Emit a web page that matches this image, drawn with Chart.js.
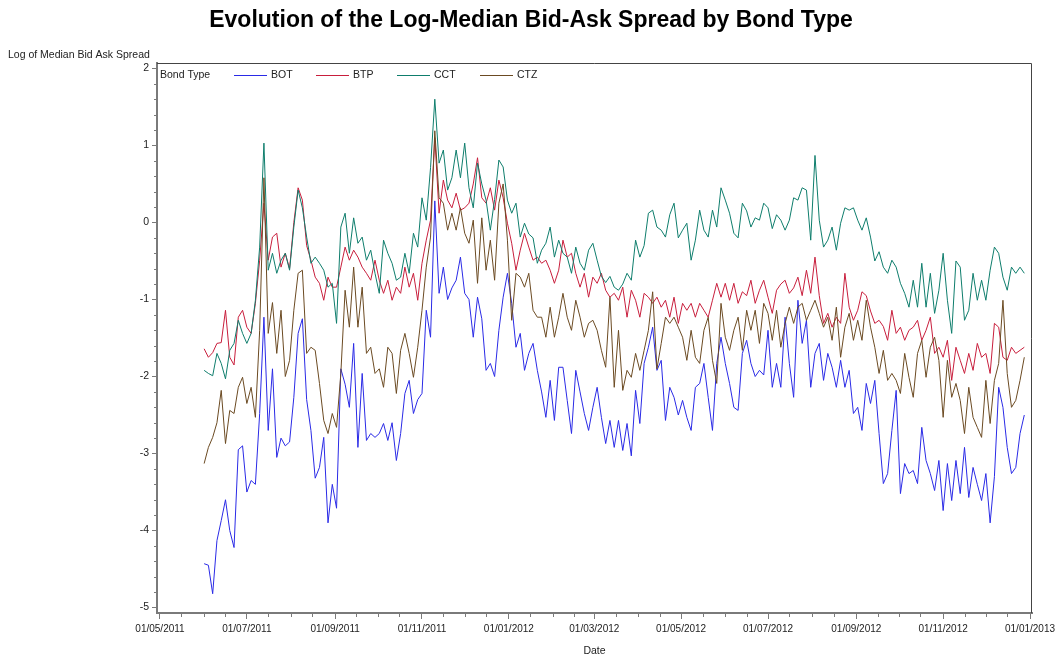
<!DOCTYPE html>
<html><head><meta charset="utf-8">
<script src="https://cdn.jsdelivr.net/npm/chart.js@4.4.0/dist/chart.umd.min.js"></script>
<style>html,body{margin:0;padding:0;background:#fff}#wrap{width:1057px;height:661px;position:relative}</style>
</head><body><div id="wrap"><canvas id="c" width="1057" height="661"></canvas></div>
<script>
// ---- data ----
const startDate = '2011-06-01';   // first observation
const stepDays = 3;               // spacing between observations
const bondTypes = ['BOT', 'BTP', 'CCT', 'CTZ'];
const BOT = [-4.43,-4.45,-4.82,-4.13,-3.87,-3.6,-4.0,-4.22,-2.95,-2.9,
 -3.5,-3.35,-3.4,-2.48,-1.23,-2.7,-1.9,-3.05,-2.8,-2.9,
 -2.85,-2.27,-1.44,-1.25,-2.3,-2.7,-3.32,-3.18,-2.79,-3.9,
 -3.4,-3.71,-1.9,-2.1,-2.4,-1.57,-2.92,-1.96,-2.83,-2.74,
 -2.79,-2.74,-2.61,-2.83,-2.6,-3.09,-2.74,-2.22,-2.05,-2.48,
 -2.3,-2.22,-1.14,-1.49,0.28,-0.92,-0.58,-1.0,-0.85,-0.75,
 -0.45,-0.92,-1.0,-1.49,-0.97,-1.25,-1.92,-1.83,-2.0,-1.4,
 -0.97,-0.66,-1.05,-1.62,-1.44,-1.92,-1.7,-1.57,-1.92,-2.2,
 -2.53,-2.05,-2.57,-1.88,-1.88,-2.31,-2.74,-1.92,-2.2,-2.48,
 -2.7,-2.4,-2.14,-2.53,-2.87,-2.57,-2.92,-2.57,-2.96,-2.61,
 -3.03,-2.18,-2.61,-1.83,-1.62,-1.36,-1.92,-1.79,-2.57,-2.14,
 -2.27,-2.5,-2.31,-2.53,-2.7,-2.14,-2.09,-1.83,-2.27,-2.7,
 -1.83,-1.49,-1.83,-2.09,-2.4,-2.44,-1.7,-1.53,-1.83,-2.0,
 -1.92,-1.98,-1.4,-2.14,-1.83,-2.14,-1.23,-1.83,-2.27,-1.01,
 -1.57,-1.27,-2.14,-1.7,-1.57,-2.05,-1.7,-1.88,-2.14,-1.79,
 -2.14,-1.92,-2.48,-2.4,-2.7,-2.09,-2.35,-2.05,-2.74,-3.39,
 -3.26,-2.7,-2.18,-3.52,-3.13,-3.26,-3.22,-3.39,-2.66,-3.09,
 -3.26,-3.48,-3.09,-3.74,-3.13,-3.61,-3.09,-3.52,-2.92,-3.57,
 -3.18,-3.4,-3.61,-3.26,-3.9,-3.3,-2.14,-2.4,-2.92,-3.26,
 -3.18,-2.74,-2.5];
const BTP = [-1.64,-1.75,-1.69,-1.57,-1.56,-1.14,-1.75,-1.85,-1.23,-1.14,
 -1.36,-1.44,-1.05,-0.49,0.25,-0.49,-0.19,-0.14,-0.58,-0.4,
 -0.6,0.0,0.45,0.29,-0.3,-0.49,-0.71,-0.79,-1.01,-0.71,
 -0.84,-0.84,-0.58,-0.32,-0.49,-0.36,-0.45,-0.58,-0.66,-0.75,
 -0.49,-0.75,-0.92,-0.75,-1.01,-0.84,-0.92,-0.58,-0.84,-0.66,
 -1.01,-0.53,-0.23,0.03,1.1,0.12,0.55,0.29,0.19,0.38,
 0.16,0.19,0.25,0.5,0.84,0.32,0.25,0.45,0.16,0.55,
 0.32,-0.01,-0.27,-0.62,-0.36,-0.14,-0.32,-0.49,-0.45,-0.53,
 -0.49,-0.62,-0.79,-0.62,-0.23,-0.45,-0.4,-0.66,-0.84,-0.66,
 -0.97,-0.71,-0.79,-0.66,-0.88,-0.97,-0.92,-1.01,-0.84,-1.23,
 -0.88,-1.01,-1.23,-0.92,-0.97,-1.05,-0.97,-1.1,-1.01,-1.23,
 -0.97,-1.31,-1.05,-1.14,-1.05,-1.23,-1.05,-1.14,-1.23,-1.01,
 -0.79,-0.97,-0.79,-1.01,-0.79,-1.05,-0.9,-0.95,-0.75,-1.05,
 -0.88,-0.75,-0.97,-1.18,-0.88,-0.8,-0.75,-0.92,-0.85,-0.71,
 -0.95,-0.62,-0.92,-0.45,-0.95,-1.31,-1.18,-1.36,-1.23,-1.31,
 -0.66,-1.1,-1.27,-1.14,-0.9,-0.95,-1.15,-1.31,-1.27,-1.35,
 -1.53,-1.14,-1.44,-1.36,-1.53,-1.4,-1.36,-1.27,-1.53,-1.4,
 -1.23,-1.7,-1.62,-1.75,-1.53,-2.05,-1.62,-1.79,-1.96,-1.7,
 -1.92,-1.57,-1.75,-1.7,-1.96,-1.31,-1.36,-1.75,-1.79,-1.62,
 -1.7,-1.66,-1.62];
const CCT = [-1.92,-1.96,-1.99,-1.7,-1.83,-2.03,-1.66,-1.57,-1.27,-1.44,
 -1.57,-1.44,-1.01,-0.32,1.03,-0.62,-0.4,-0.66,-0.49,-0.4,
 -0.62,-0.06,0.42,0.19,-0.19,-0.53,-0.45,-0.53,-0.62,-0.84,
 -0.79,-1.31,-0.06,0.12,-0.4,0.06,-0.27,-0.19,-0.49,-0.36,
 -0.66,-0.92,-0.23,-0.4,-0.53,-0.75,-0.71,-0.4,-0.66,-0.14,
 -0.32,0.32,0.03,0.71,1.6,0.77,0.94,0.42,0.58,0.94,
 0.58,1.03,0.45,0.19,0.77,0.5,0.29,-0.1,0.3,0.81,
 0.72,0.29,0.12,0.25,-0.19,-0.01,-0.15,-0.2,-0.53,-0.36,
 -0.27,-0.06,-0.45,-0.23,-0.4,-0.45,-0.66,-0.32,-0.53,-0.62,
 -0.36,-0.27,-0.49,-0.7,-0.78,-0.7,-0.84,-0.88,-0.8,-0.66,
 -0.75,-0.23,-0.45,-0.3,0.12,0.16,-0.06,-0.1,-0.19,0.1,
 0.25,-0.2,-0.1,-0.01,-0.49,-0.23,0.16,-0.1,-0.19,0.16,
 -0.06,0.45,0.29,0.12,-0.14,-0.2,0.25,0.15,-0.06,0.06,
 0.03,0.25,0.19,-0.08,0.1,0.03,-0.1,0.03,0.32,0.29,
 0.45,0.42,-0.23,0.87,0.03,-0.32,-0.23,-0.06,-0.36,-0.01,
 0.19,0.16,0.19,0.03,-0.1,0.06,-0.19,-0.5,-0.38,-0.58,
 -0.66,-0.49,-0.58,-0.79,-0.92,-1.1,-0.75,-1.1,-0.53,-1.1,
 -0.66,-1.18,-0.88,-0.4,-1.01,-1.44,-0.5,-0.58,-1.27,-1.14,
 -0.66,-1.01,-0.75,-1.01,-0.62,-0.32,-0.4,-0.71,-0.88,-0.58,
 -0.66,-0.58,-0.66];
const CTZ = [-3.13,-2.92,-2.79,-2.6,-2.18,-2.87,-2.44,-2.48,-2.14,-2.01,
 -2.35,-2.14,-2.53,-1.4,0.58,-1.44,-1.04,-1.7,-1.14,-2.0,
 -1.79,-1.14,-0.66,-0.62,-1.7,-1.62,-1.66,-2.09,-2.57,-2.74,
 -2.48,-2.66,-1.96,-0.88,-1.36,-0.58,-1.36,-0.84,-1.7,-1.62,
 -1.96,-1.9,-2.14,-1.62,-1.7,-2.22,-1.66,-1.44,-1.7,-2.01,
 -1.62,-1.14,-0.58,-0.19,1.19,0.32,0.25,-0.1,0.12,-0.1,
 0.19,-0.14,-0.27,0.03,-0.79,0.06,-0.62,-0.23,-0.75,0.25,
 0.5,-0.23,-1.27,-0.66,-0.71,-0.84,-0.66,-1.14,-1.23,-1.23,
 -1.49,-1.1,-1.49,-1.23,-0.92,-1.23,-1.4,-1.01,-1.23,-1.49,
 -1.31,-1.27,-1.4,-1.66,-1.88,-0.97,-2.14,-1.4,-2.18,-1.92,
 -2.01,-1.7,-1.92,-1.66,-1.4,-0.9,-1.9,-1.57,-1.23,-1.31,
 -1.23,-1.36,-1.49,-1.79,-1.4,-1.75,-1.83,-1.4,-1.23,-1.79,
 -2.09,-1.05,-1.49,-1.66,-1.4,-1.23,-1.66,-1.14,-1.4,-1.14,
 -1.57,-1.05,-1.18,-1.53,-1.14,-1.62,-1.31,-1.1,-1.31,-1.1,
 -1.05,-1.27,-1.14,-1.01,-1.18,-1.36,-1.23,-1.53,-1.1,-1.75,
 -1.36,-1.18,-1.53,-1.27,-1.53,-1.01,-1.36,-1.62,-1.96,-1.66,
 -2.05,-1.96,-2.05,-2.22,-1.7,-2.01,-2.27,-1.7,-1.53,-2.01,
 -1.62,-1.49,-1.79,-2.53,-1.79,-2.27,-2.09,-2.31,-2.74,-2.14,
 -2.53,-2.66,-2.79,-2.05,-2.61,-2.05,-1.83,-1.01,-1.96,-2.4,
 -2.31,-2.05,-1.75];
const seriesValues = [BOT, BTP, CCT, CTZ];
const seriesColors = ['#2a2ae6', '#c81e3c', '#0e7d6c', '#6b4a22'];
const yTickValues = [-5, -4, -3, -2, -1, 0, 1, 2];
const xTickDates = ['2011-05-01','2011-07-01','2011-09-01','2011-11-01','2012-01-01','2012-03-01',
                    '2012-05-01','2012-07-01','2012-09-01','2012-11-01','2013-01-01'];
const titleText = 'Evolution of the Log-Median Bid-Ask Spread by Bond Type';
const yTitle = 'Log of Median Bid Ask Spread';
const xTitle = 'Date';
const legendTitle = 'Bond Type';

// ---- helpers ----
const DAY = 86400000;
function ts(s){ const p = s.split('-').map(Number); return Date.UTC(p[0], p[1]-1, p[2]); }
function fmt(v){ const d = new Date(v); const dd = String(d.getUTCDate()).padStart(2,'0');
  const mm = String(d.getUTCMonth()+1).padStart(2,'0'); return dd + '/' + mm + '/' + d.getUTCFullYear(); }
const t0 = ts(startDate);
const datesTs = BOT.map((_, i) => t0 + i*stepDays*DAY);

const FONT = '"Liberation Sans", Arial, sans-serif';
const AXIS = '#7a7a7a';

const datasets = bondTypes.map((name, k) => ({
  label: name,
  data: seriesValues[k].map((v, i) => ({x: datesTs[i], y: v})),
  borderColor: seriesColors[k],
  backgroundColor: seriesColors[k],
  borderWidth: 1,
  pointRadius: 0,
  tension: 0,
  fill: false,
  order: bondTypes.length - 1 - k
}));

const deco = {
  id: 'deco',
  afterDraw(chart){
    const ctx = chart.ctx, a = chart.chartArea;
    const xs = chart.scales.x, ys = chart.scales.y;
    ctx.save();
    // frame top/right
    ctx.strokeStyle = '#444'; ctx.lineWidth = 1;
    ctx.beginPath();
    ctx.moveTo(a.left, a.top + 0.5); ctx.lineTo(a.right - 0.5, a.top + 0.5); ctx.lineTo(a.right - 0.5, a.bottom);
    ctx.stroke();
    // minor ticks
    ctx.strokeStyle = AXIS; ctx.lineWidth = 1;
    ctx.beginPath();
    for (let v = -5; v <= 2.001; v += 0.2) {
      const r = Math.round(v*10)/10;
      if (Math.abs(r - Math.round(r)) < 1e-6) continue;
      const y = Math.round(ys.getPixelForValue(r)) + 0.5;
      ctx.moveTo(a.left - 3, y); ctx.lineTo(a.left, y);
    }
    const majors = new Set(xTickDates.map(ts));
    for (let yr = 2011; yr <= 2012; yr++) for (let m = 0; m < 12; m++) {
      [1, 16].forEach(dd => {
        const t = Date.UTC(yr, m, dd);
        if (majors.has(t) || t < xs.min || t > xs.max) return;
        const x = Math.round(xs.getPixelForValue(t)) + 0.5;
        ctx.moveTo(x, a.bottom); ctx.lineTo(x, a.bottom + 4);
      });
    }
    ctx.stroke();
    // texts
    ctx.fillStyle = '#000';
    ctx.textBaseline = 'middle';
    ctx.font = 'bold 23px ' + FONT; ctx.textAlign = 'center';
    ctx.fillText(titleText, 531, 21);
    ctx.font = '10.5px ' + FONT; ctx.fillStyle = '#222';
    ctx.textAlign = 'left';
    ctx.fillText(yTitle, 8, 55);
    ctx.textAlign = 'center';
    ctx.fillText(xTitle, (a.left + a.right)/2, 651);
    // legend
    const ly = 75;
    ctx.textAlign = 'left';
    ctx.fillText(legendTitle, 160, ly);
    const lx = [234, 316, 397, 480];
    chart.data.datasets.forEach((ds, k) => {
      ctx.strokeStyle = seriesColors[k]; ctx.lineWidth = 1;
      ctx.beginPath(); ctx.moveTo(lx[k], ly + 0.5); ctx.lineTo(lx[k] + 33, ly + 0.5); ctx.stroke();
      ctx.fillStyle = '#222';
      ctx.fillText(ds.label, lx[k] + 37, ly);
    });
    ctx.restore();
  }
};

new Chart(document.getElementById('c'), {
  type: 'line',
  data: { datasets },
  options: {
    responsive: false, animation: false, devicePixelRatio: 1,
    layout: { padding: { top: 63, right: 25, left: 0, bottom: 0 } },
    plugins: { legend: { display: false }, tooltip: { enabled: false }, title: { display: false } },
    scales: {
      x: {
        type: 'linear',
        min: ts('2011-05-01') - 2.1*DAY,
        max: ts('2013-01-01') + 1.4*DAY,
        afterBuildTicks: s => { s.ticks = xTickDates.map(d => ({ value: ts(d) })); },
        afterFit: s => { s.height = 48; s.paddingLeft = 0; s.paddingRight = 0; },
        ticks: { callback: v => fmt(v), font: { family: FONT, size: 10 }, color: '#222', maxRotation: 0, autoSkip: false, padding: 4 },
        grid: { drawOnChartArea: false, drawTicks: true, tickLength: 6, tickColor: AXIS, tickWidth: 1 },
        border: { display: true, color: AXIS, width: 2 }
      },
      y: {
        type: 'linear',
        min: -5.07, max: 2.07,
        afterBuildTicks: s => { s.ticks = yTickValues.map(v => ({ value: v })); },
        afterFit: s => { s.width = 157; },
        ticks: { font: { family: FONT, size: 10.5 }, color: '#222', padding: 3 },
        grid: { drawOnChartArea: false, drawTicks: true, tickLength: 5, tickColor: AXIS, tickWidth: 1 },
        border: { display: true, color: AXIS, width: 2 }
      }
    }
  },
  plugins: [deco]
});
</script></body></html>
